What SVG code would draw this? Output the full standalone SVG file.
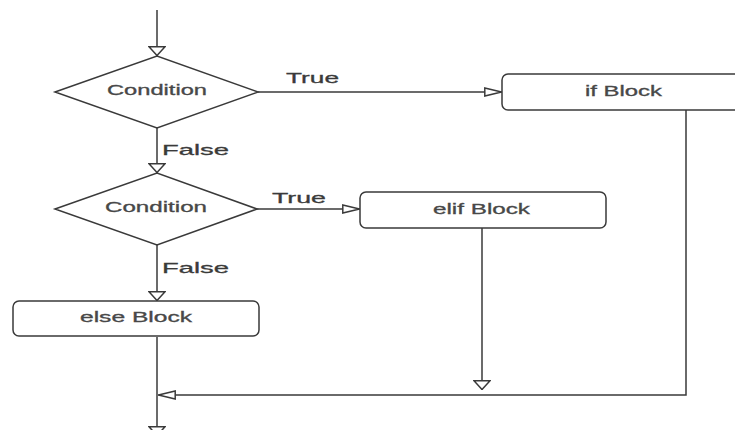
<svg xmlns="http://www.w3.org/2000/svg" width="735" height="430" viewBox="0 0 735 430">
  <defs>
    <style>
      .shape { fill: #ffffff; stroke: #3a3a3a; stroke-width: 1.5; }
      .edge { fill: none; stroke: #3a3a3a; stroke-width: 1.5; }
      .lbl { font-family: "Liberation Sans", Arial, sans-serif; font-size: 14px; fill: #484848; stroke: #484848; stroke-width: 0.3; }
      .edge-lbl { font-family: "Liberation Sans", Arial, sans-serif; font-size: 15px; fill: #3a3a3a; stroke: #3a3a3a; stroke-width: 0.3; }
    </style>
    <!-- open triangle for vertical flows -->
    <marker id="arrowV" viewBox="0 0 10 18" refX="10" refY="9" markerWidth="10" markerHeight="18" markerUnits="userSpaceOnUse" orient="auto">
      <path d="M0.8,1 L9.5,9 L0.8,17 Z" fill="#ffffff" stroke="#3a3a3a" stroke-width="1.5"/>
    </marker>
    <!-- open triangle for horizontal flows -->
    <marker id="arrowH" viewBox="0 0 18 10" refX="18" refY="5" markerWidth="18" markerHeight="10" markerUnits="userSpaceOnUse" orient="auto">
      <path d="M0.8,1 L17.5,5 L0.8,9 Z" fill="#ffffff" stroke="#3a3a3a" stroke-width="1.5"/>
    </marker>
  </defs>

  <rect width="735" height="430" fill="#ffffff"/>

  <g id="connectors">
    <line class="edge" x1="157" y1="10" x2="157" y2="56" marker-end="url(#arrowV)"/>
    <line class="edge" x1="157" y1="128" x2="157" y2="173" marker-end="url(#arrowV)"/>
    <line class="edge" x1="258" y1="92" x2="502" y2="92" marker-end="url(#arrowH)"/>
    <line class="edge" x1="257" y1="209" x2="360" y2="209" marker-end="url(#arrowH)"/>
    <line class="edge" x1="157" y1="245" x2="157" y2="301" marker-end="url(#arrowV)"/>
    <line class="edge" x1="482" y1="228" x2="482" y2="390" marker-end="url(#arrowV)"/>
    <polyline class="edge" points="686,110 686,395 158,395" marker-end="url(#arrowH)"/>
    <line class="edge" x1="157" y1="337" x2="157" y2="436" marker-end="url(#arrowV)"/>
    <text class="edge-lbl" x="286" y="83" textLength="53" lengthAdjust="spacingAndGlyphs">True</text>
    <text class="edge-lbl" x="272" y="203" textLength="54" lengthAdjust="spacingAndGlyphs">True</text>
    <text class="edge-lbl" x="162" y="155" textLength="67" lengthAdjust="spacingAndGlyphs">False</text>
    <text class="edge-lbl" x="162" y="273" textLength="67" lengthAdjust="spacingAndGlyphs">False</text>
  </g>

  <g id="condition1">
    <polygon class="shape" points="55,92 157,56 258,92 157,128"/>
    <text class="lbl" x="107" y="95" textLength="100" lengthAdjust="spacingAndGlyphs">Condition</text>
  </g>

  <g id="condition2">
    <polygon class="shape" points="55,209 157,173 257,209 157,245"/>
    <text class="lbl" x="105" y="212" textLength="102" lengthAdjust="spacingAndGlyphs">Condition</text>
  </g>

  <g id="if-block">
    <rect class="shape" x="502" y="74" width="260" height="36" rx="6"/>
    <text class="lbl" x="585" y="96" textLength="77" lengthAdjust="spacingAndGlyphs">if Block</text>
  </g>

  <g id="elif-block">
    <rect class="shape" x="360" y="192" width="246" height="36" rx="6"/>
    <text class="lbl" x="433" y="214" textLength="97" lengthAdjust="spacingAndGlyphs">elif Block</text>
  </g>

  <g id="else-block">
    <rect class="shape" x="13" y="301" width="246" height="35" rx="6"/>
    <text class="lbl" x="80" y="322" textLength="112" lengthAdjust="spacingAndGlyphs">else Block</text>
  </g>
</svg>
